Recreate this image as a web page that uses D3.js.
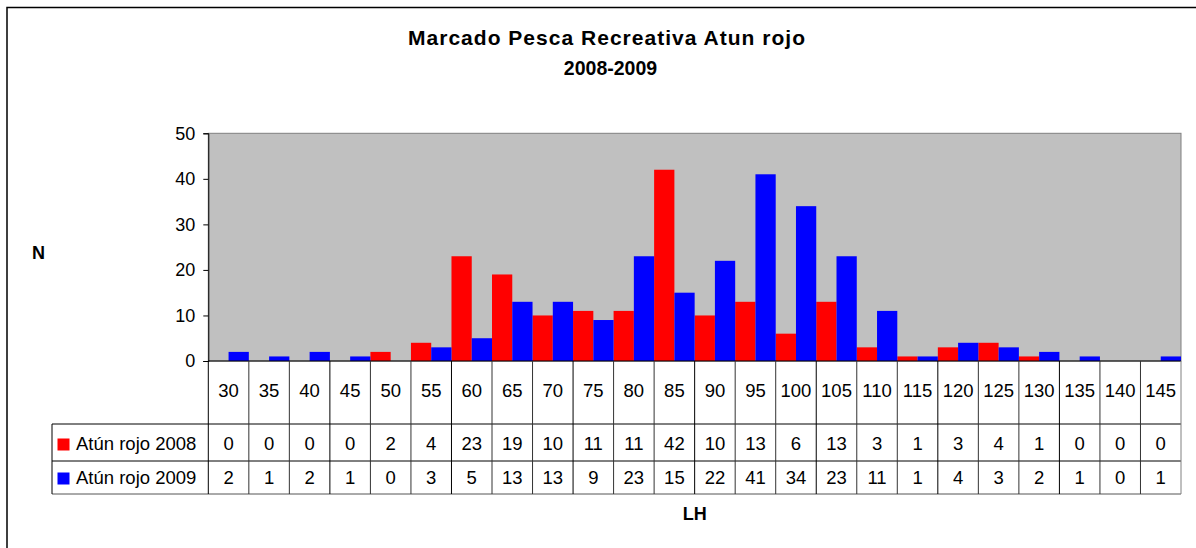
<!DOCTYPE html>
<html>
<head>
<meta charset="utf-8">
<script src="https://cdn.jsdelivr.net/npm/d3@7"></script>
<style>
  body { margin: 0; background: #fff; }
  svg { display: block; font-family: "Liberation Sans", Arial, sans-serif; }
</style>
</head>
<body>
<div id="chart"></div>
<script>
// data
let categories = ["30", "35", "40", "45", "50", "55", "60", "65", "70", "75", "80", "85",
  "90", "95", "100", "105", "110", "115", "120", "125", "130", "135", "140", "145"];
let series2008 = [0, 0, 0, 0, 2, 4, 23, 19, 10, 11, 11, 42, 10, 13, 6, 13, 3, 1, 3, 4, 1, 0, 0, 0];
let series2009 = [2, 1, 2, 1, 0, 3, 5, 13, 13, 9, 23, 15, 22, 41, 34, 23, 11, 1, 4, 3, 2, 1, 0, 1];
let seriesNames = ["Atún rojo 2008", "Atún rojo 2009"];
let yTicks = [0, 10, 20, 30, 40, 50];
let titleLines = ["Marcado Pesca Recreativa Atun rojo", "2008-2009"];

let colors = ["#ff0000", "#0000ff"];

let width = 1196;
let height = 548;
let plotLeft = 208.3, plotRight = 1181, plotTop = 133.3, plotBottom = 361;
let rowCat = 424, row1 = 461, row2 = 494;
let legendLeft = 52;

let svg = d3.select("#chart").append("svg")
  .attr("width", width)
  .attr("height", height);

// chart border (runs past the bottom/right edges of the window)
svg.append("rect")
  .attr("x", 7).attr("y", 7.5)
  .attr("width", 1210).attr("height", 600)
  .attr("fill", "#fff")
  .attr("stroke", "#000")
  .attr("stroke-width", 1.5);

let xScale = d3.scaleBand()
  .domain(categories)
  .range([plotLeft, plotRight])
  .padding(0);

let inner = d3.scaleBand()
  .domain([0, 1])
  .range([0, xScale.bandwidth()])
  .padding(0);

let yScale = d3.scaleLinear()
  .domain([0, 50])
  .range([plotBottom, plotTop]);

// plot area
svg.append("rect")
  .attr("x", plotLeft).attr("y", plotTop)
  .attr("width", plotRight - plotLeft)
  .attr("height", plotBottom - plotTop)
  .attr("fill", "#c0c0c0")
  .attr("stroke", "#808080")
  .attr("stroke-width", 1);

// bars
let all = [series2008, series2009];
all.forEach(function (values, s) {
  svg.append("g")
    .selectAll("rect")
    .data(values)
    .enter()
    .append("rect")
    .attr("x", (d, i) => xScale(categories[i]) + inner(s))
    .attr("y", (d) => yScale(d))
    .attr("width", inner.bandwidth())
    .attr("height", (d) => plotBottom - yScale(d))
    .attr("fill", colors[s]);
});

// y axis
let yAxis = d3.axisLeft(yScale)
  .tickValues(yTicks)
  .tickSize(5)
  .tickPadding(8);

let yg = svg.append("g")
  .attr("transform", "translate(" + plotLeft + ",0)")
  .call(yAxis);
yg.select(".domain").attr("stroke", "#000");
yg.selectAll("text")
  .attr("font-size", "18px")
  .attr("font-family", "Liberation Sans, Arial, sans-serif")
  .attr("fill", "#000");

// table lines
let lines = svg.append("g").attr("stroke", "#000").attr("stroke-width", 1);

// x axis baseline
lines.append("line")
  .attr("x1", plotLeft).attr("x2", plotRight)
  .attr("y1", plotBottom).attr("y2", plotBottom);

// horizontal table rules
[rowCat, row1].forEach(function (y) {
  lines.append("line")
    .attr("x1", legendLeft).attr("x2", plotRight)
    .attr("y1", y).attr("y2", y);
});
lines.append("line")
  .attr("x1", legendLeft).attr("x2", plotRight)
  .attr("y1", row2).attr("y2", row2)
  .attr("stroke", "#555");

// vertical table rules at the category edges
let edges = categories.map((c) => xScale(c));
edges.forEach(function (x, i) {
  lines.append("line")
    .attr("x1", x).attr("x2", x)
    .attr("y1", plotBottom).attr("y2", row2)
    .attr("stroke", i % 3 === 0 ? "#000" : "#333");
});
lines.append("line")
  .attr("x1", plotRight).attr("x2", plotRight)
  .attr("y1", plotBottom).attr("y2", row2)
  .attr("stroke", "#808080");
lines.append("line")
  .attr("x1", legendLeft).attr("x2", legendLeft)
  .attr("y1", rowCat).attr("y2", row2);

// category labels
svg.append("g")
  .selectAll("text")
  .data(categories)
  .enter()
  .append("text")
  .attr("x", (d) => xScale(d) + xScale.bandwidth() / 2)
  .attr("y", 397)
  .attr("text-anchor", "middle")
  .attr("font-size", "18.5px")
  .text((d) => d);

// values rows
let rowBase = [450, 484];
all.forEach(function (values, s) {
  svg.append("g")
    .selectAll("text")
    .data(values)
    .enter()
    .append("text")
    .attr("x", (d, i) => xScale(categories[i]) + xScale.bandwidth() / 2)
    .attr("y", rowBase[s])
    .attr("text-anchor", "middle")
    .attr("font-size", "18.5px")
    .text((d) => d);

  // legend key + name
  svg.append("rect")
    .attr("x", 57.5)
    .attr("y", rowBase[s] - 11.5)
    .attr("width", 12)
    .attr("height", 12)
    .attr("fill", colors[s]);
  svg.append("text")
    .attr("x", 76)
    .attr("y", rowBase[s])
    .attr("font-size", "18.5px")
    .text(seriesNames[s]);
});

// title
svg.append("text")
  .attr("x", 606.5)
  .attr("y", 45)
  .attr("text-anchor", "middle")
  .attr("font-size", "21px")
  .attr("font-weight", "bold")
  .attr("textLength", 397)
  .attr("lengthAdjust", "spacing")
  .text(titleLines[0]);
svg.append("text")
  .attr("x", 610.5)
  .attr("y", 75)
  .attr("text-anchor", "middle")
  .attr("font-size", "19.5px")
  .attr("font-weight", "bold")
  .text(titleLines[1]);

// axis titles
svg.append("text")
  .attr("x", 38.5)
  .attr("y", 259)
  .attr("text-anchor", "middle")
  .attr("font-size", "18px")
  .attr("font-weight", "bold")
  .text("N");
svg.append("text")
  .attr("x", (plotLeft + plotRight) / 2)
  .attr("y", 520)
  .attr("text-anchor", "middle")
  .attr("font-size", "18px")
  .attr("font-weight", "bold")
  .text("LH");
</script>
</body>
</html>
